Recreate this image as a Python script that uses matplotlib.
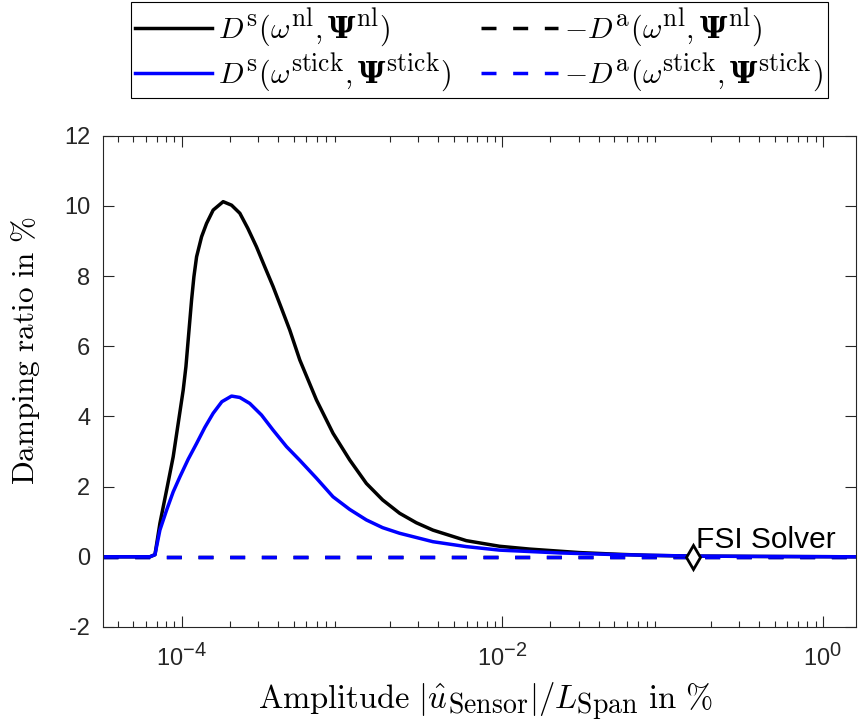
import numpy as np
import matplotlib.pyplot as plt
import matplotlib._mathtext as mtext
from matplotlib.font_manager import FontProperties

plt.rcParams['font.family'] = ['Liberation Sans', 'DejaVu Sans']
plt.rcParams['mathtext.fontset'] = 'cm'
plt.rcParams['mathtext.rm'] = 'cmr10'
plt.rcParams['mathtext.it'] = 'cmmi10'
plt.rcParams['mathtext.bf'] = 'DejaVu Serif:bold'
plt.rcParams['mathtext.fallback'] = 'cm'
plt.rcParams['axes.unicode_minus'] = False
plt.rcParams['lines.scale_dashes'] = False
# bigger super/subscripts, closer to the latex look of the original
mtext.SHRINK_FACTOR = 0.85

# amplitude |u_sensor| / L_span in %, damping ratio in %
amp_nl = [3.22e-5, 6.34e-5, 6.82e-5, 7.32e-5, 8.06e-5, 8.86e-5, 9.52e-5, 1.023e-4,
          1.064e-4, 1.099e-4, 1.154e-4, 1.193e-4, 1.240e-4, 1.332e-4, 1.431e-4,
          1.573e-4, 1.816e-4, 2.049e-4, 2.308e-4, 2.588e-4, 2.933e-4, 3.304e-4,
          3.721e-4, 4.198e-4, 4.728e-4, 5.459e-4, 6.936e-4, 8.80e-4, 1.118e-3,
          1.421e-3, 1.795e-3, 2.291e-3, 2.911e-3, 3.695e-3, 5.966e-3, 9.62e-3,
          1.480e-2, 2.275e-2, 3.031e-2, 5.38e-2, 8.28e-2, 0.1555, 0.401, 1.589]
d_nl = [0.0, 0.0, 0.06, 0.95, 1.9, 2.85, 3.8, 4.75,
        5.42, 6.18, 7.32, 7.98, 8.55, 9.12, 9.5,
        9.88, 10.12, 10.02, 9.79, 9.36, 8.83, 8.26,
        7.7, 7.08, 6.46, 5.61, 4.47, 3.52, 2.76,
        2.09, 1.62, 1.24, 0.97, 0.76, 0.46, 0.3,
        0.22, 0.16, 0.12, 0.07, 0.04, 0.02, 0.01, 0.0]

amp_stick = [3.22e-5, 6.34e-5, 6.82e-5, 7.32e-5, 8.06e-5, 8.86e-5, 9.76e-5, 1.099e-4,
             1.240e-4, 1.397e-4, 1.573e-4, 1.783e-4, 2.049e-4, 2.308e-4, 2.663e-4,
             3.150e-4, 3.721e-4, 4.510e-4, 5.459e-4, 6.936e-4, 8.80e-4, 1.118e-3,
             1.421e-3, 1.795e-3, 2.291e-3, 3.695e-3, 5.966e-3, 9.62e-3, 2.275e-2,
             5.38e-2, 0.1555, 0.401, 1.589]
d_stick = [0.0, 0.0, 0.06, 0.76, 1.33, 1.85, 2.28, 2.78,
           3.23, 3.69, 4.09, 4.42, 4.58, 4.54, 4.37,
           4.04, 3.61, 3.14, 2.75, 2.24, 1.71, 1.35,
           1.05, 0.83, 0.67, 0.43, 0.29, 0.19, 0.11,
           0.06, 0.02, 0.01, 0.0]

amp_range = [3.22e-5, 1.589]
d_zero = [0.0, 0.0]

fsi_amp = 0.1555
fsi_d = 0.0

fig = plt.figure(figsize=(8.61, 7.26), dpi=100)
ax = fig.add_axes([0.1193, 0.1364, 0.8749, 0.6767])

lw = 2.5
ax.plot(amp_range, d_zero, color='black', lw=lw, dashes=(10.8, 12),
        label=r'$-D^{\mathrm{a}}(\omega^{\mathrm{nl}},\mathbf{\Psi}^{\mathrm{nl}})$')
ax.plot(amp_range, d_zero, color='blue', lw=lw, dashes=(10.8, 12),
        label=r'$-D^{\mathrm{a}}(\omega^{\mathrm{stick}},\mathbf{\Psi}^{\mathrm{stick}})$')
ax.plot(amp_nl, d_nl, color='black', lw=lw,
        label=r'$D^{\mathrm{s}}(\omega^{\mathrm{nl}},\mathbf{\Psi}^{\mathrm{nl}})$')
ax.plot(amp_stick, d_stick, color='blue', lw=lw,
        label=r'$D^{\mathrm{s}}(\omega^{\mathrm{stick}},\mathbf{\Psi}^{\mathrm{stick}})$')

ax.plot([fsi_amp], [fsi_d], marker='d', ms=12, mfc='white', mec='black', mew=2,
        ls='none')
ax.annotate('FSI Solver', (fsi_amp, fsi_d), xytext=(2, 6), textcoords='offset points',
            fontsize=21.5, ha='left', va='baseline')

ax.set_xscale('log')
ax.set_xlim(3.22e-5, 1.61)
ax.set_ylim(-2, 12)
ax.set_yticks(np.arange(-2, 13, 2))
ax.set_xticks([1e-4, 1e-2, 1e0])
ax.set_xticklabels([r'$\mathregular{10^{-4}}$', r'$\mathregular{10^{-2}}$',
                    r'$\mathregular{10^{0}}$'])

ax.tick_params(which='both', direction='in', top=True, right=True,
               labelsize=17, colors='#262626', width=0.8)
ax.tick_params(which='major', length=8)
ax.tick_params(axis='y', which='major', pad=9)
ax.tick_params(axis='x', which='major', pad=12)
ax.tick_params(which='minor', length=4)
for s in ax.spines.values():
    s.set_color('#262626')
    s.set_linewidth(0.8)

ax.set_xlabel(r'$\mathrm{Amplitude}\ |\hat{u}_{\mathrm{Sensor}}|/L_{\mathrm{Span}}\ \mathrm{in}\ \%$',
              fontsize=23.5)
ax.set_ylabel(r'$\mathrm{Damping\ ratio\ in\ \%}$', fontsize=22.5)
ax.xaxis.set_label_coords(0.5075, -0.11)
ax.yaxis.set_label_coords(-0.081, 0.562)

h, l = ax.get_legend_handles_labels()
order = [2, 3, 0, 1]
leg = ax.legend([h[i] for i in order], [l[i] for i in order], ncol=2,
                loc='lower center', bbox_to_anchor=(0.5, 1.077), borderaxespad=0,
                prop=FontProperties(size=21.5, math_fontfamily='custom'),
                handlelength=2.58, handletextpad=0.2, columnspacing=1.0,
                labelspacing=0.12, fancybox=False, edgecolor='black', framealpha=1,
                borderpad=0.15)
leg.get_frame().set_linewidth(0.8)

fig.savefig('out.png', dpi=100)
